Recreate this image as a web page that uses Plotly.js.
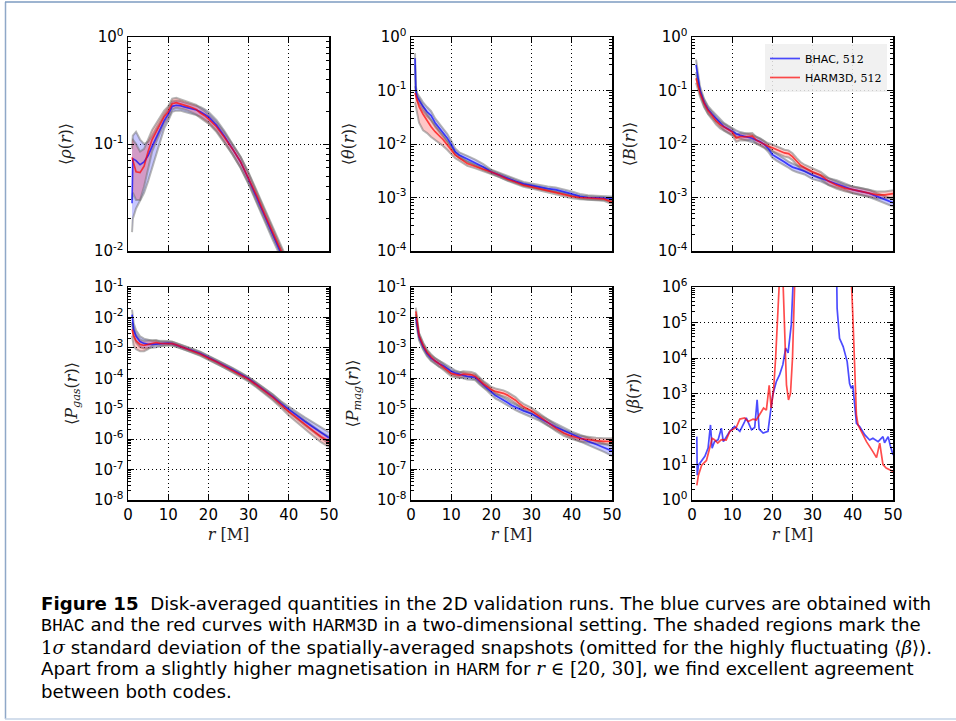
<!DOCTYPE html>
<html>
<head>
<meta charset="utf-8">
<script src="https://cdn.plot.ly/plotly-3.0.1.min.js"></script>
<style>html,body{margin:0;padding:0;background:#fff;}#chart{width:956px;height:721px;}</style>
</head>
<body>
<div id="chart"></div>
<script>
// ---------- DATA ----------
const xTicks = [0, 10, 20, 30, 40, 50];
const xTickText = ['0', '10', '20', '30', '40', '50'];

// Panel 1: <rho(r)>
const r1 = [1.0,1.2,2,3,4,5,6,7,8,9,10,11,12,13,14,15,16,17,18,19,20,22,24,26,28,30,32,34,36,38,40,42,44,46,48,50];
const rhoBHAC = [0.028,0.073,0.07,0.064,0.068,0.078,0.095,0.115,0.14,0.165,0.19,0.225,0.23,0.228,0.222,0.218,0.212,0.208,0.2,0.19,0.18,0.15,0.118,0.09,0.068,0.047,0.032,0.021,0.0145,0.0101,0.0068,0.0045,0.003,0.002,0.0013,0.0009];
const rhoBHAClo = [0.015,0.02,0.025,0.03,0.035,0.045,0.06,0.08,0.11,0.14,0.165,0.2,0.205,0.205,0.2,0.196,0.19,0.186,0.18,0.17,0.16,0.133,0.105,0.08,0.06,0.042,0.028,0.0185,0.0127,0.0088,0.006,0.0039,0.0026,0.0017,0.0011,0.0008];
const rhoBHAChi = [0.09,0.12,0.13,0.11,0.1,0.105,0.12,0.14,0.165,0.19,0.215,0.25,0.255,0.252,0.245,0.24,0.234,0.23,0.222,0.212,0.2,0.168,0.132,0.1,0.076,0.053,0.036,0.024,0.0165,0.0115,0.0077,0.0051,0.0034,0.0023,0.0015,0.001];
const rhoHARM = [0.075,0.07,0.055,0.054,0.062,0.085,0.11,0.13,0.155,0.18,0.2,0.238,0.243,0.238,0.232,0.225,0.218,0.21,0.195,0.185,0.172,0.145,0.115,0.09,0.068,0.048,0.033,0.022,0.0152,0.0106,0.0073,0.005,0.0033,0.0022,0.0015,0.001];
const rhoHARMlo = [0.03,0.035,0.03,0.03,0.04,0.06,0.085,0.105,0.13,0.155,0.175,0.21,0.218,0.215,0.21,0.204,0.196,0.188,0.175,0.166,0.155,0.13,0.103,0.08,0.06,0.043,0.029,0.0195,0.0135,0.0094,0.0065,0.0044,0.0029,0.0019,0.0013,0.0009];
const rhoHARMhi = [0.11,0.11,0.1,0.085,0.09,0.11,0.135,0.155,0.18,0.205,0.225,0.265,0.27,0.262,0.255,0.246,0.24,0.232,0.216,0.205,0.19,0.16,0.128,0.1,0.076,0.054,0.037,0.025,0.017,0.012,0.0082,0.0056,0.0037,0.0025,0.0017,0.0011];

// Panel 2: <theta(r)>
const r2 = [1.0,1.2,1.5,2,3,4,5,6,7,8,9,10,11,12,13,14,16,18,20,22,24,26,28,30,32,34,36,38,40,42,44,46,48,50];
const thBHAC = [0.4,0.1,0.076,0.065,0.05,0.04,0.034,0.025,0.02,0.0165,0.013,0.0098,0.0072,0.0062,0.0057,0.0053,0.0045,0.0037,0.003,0.0026,0.0023,0.002,0.0018,0.00167,0.00155,0.00147,0.0014,0.0013,0.00117,0.00105,0.001,0.00099,0.00097,0.00095];
const thBHAClo = [0.3,0.085,0.065,0.055,0.042,0.033,0.028,0.021,0.017,0.014,0.011,0.0085,0.0064,0.0055,0.0051,0.0047,0.004,0.0033,0.0028,0.0024,0.0021,0.00185,0.00166,0.00153,0.00142,0.00134,0.00127,0.00118,0.00106,0.00096,0.00092,0.00091,0.00089,0.00086];
const thBHAChi = [0.5,0.12,0.09,0.078,0.06,0.049,0.041,0.03,0.024,0.0195,0.0155,0.0115,0.0082,0.007,0.0064,0.006,0.0051,0.0042,0.0033,0.0029,0.0025,0.0022,0.00196,0.00182,0.00169,0.0016,0.00154,0.00143,0.00129,0.00116,0.0011,0.00108,0.00106,0.00104];
const thHARM = [0.09,0.08,0.065,0.05,0.036,0.027,0.021,0.017,0.0145,0.012,0.0097,0.0078,0.0062,0.0055,0.0048,0.0043,0.0038,0.0034,0.003,0.0026,0.0022,0.00195,0.0017,0.00158,0.00145,0.00135,0.00125,0.00115,0.00105,0.001,0.00098,0.00096,0.00094,0.00082];
const thHARMlo = [0.06,0.05,0.035,0.025,0.018,0.016,0.0135,0.012,0.0105,0.0092,0.0078,0.0065,0.0054,0.0049,0.0043,0.0039,0.0035,0.0031,0.0028,0.0024,0.00205,0.0018,0.00158,0.00147,0.00135,0.00125,0.00116,0.00107,0.00097,0.00093,0.00091,0.00089,0.00087,0.00075];
const thHARMhi = [0.12,0.1,0.085,0.07,0.05,0.037,0.028,0.022,0.018,0.0148,0.0117,0.0092,0.007,0.0061,0.0053,0.0047,0.0041,0.0037,0.0032,0.0028,0.0024,0.0021,0.00183,0.0017,0.00156,0.00145,0.00135,0.00124,0.00113,0.00107,0.00105,0.00103,0.00101,0.0009];

// Panel 3: <B(r)>
const r3 = [1.0,1.5,2,3,4,5,6,7,8,9,10,11,12,13,14,15,16,17,18,19,20,21,22,23,24,25,26,27,28,30,32,34,36,38,40,42,44,46,48,50];
const bBHAC = [0.3,0.16,0.1,0.06,0.044,0.036,0.03,0.025,0.021,0.019,0.017,0.0156,0.0145,0.0139,0.0133,0.0128,0.0118,0.011,0.0098,0.0082,0.0063,0.0057,0.0052,0.0046,0.0041,0.0037,0.0035,0.0033,0.0031,0.0026,0.0023,0.002,0.0018,0.0016,0.0014,0.0013,0.0012,0.00105,0.00092,0.0008];
const bBHAClo = [0.22,0.13,0.085,0.051,0.037,0.031,0.026,0.0215,0.018,0.0163,0.0146,0.0135,0.0126,0.012,0.0115,0.011,0.0102,0.0095,0.0085,0.0071,0.0055,0.0049,0.0045,0.004,0.0036,0.0032,0.003,0.0028,0.0027,0.0022,0.002,0.0017,0.00155,0.00138,0.0012,0.00111,0.00102,0.0009,0.00078,0.00068];
const bBHAChi = [0.38,0.19,0.118,0.07,0.051,0.042,0.035,0.029,0.0245,0.022,0.0198,0.018,0.0167,0.016,0.0153,0.0148,0.0137,0.0127,0.0113,0.0095,0.0073,0.0066,0.006,0.0053,0.0047,0.0043,0.004,0.0038,0.0036,0.003,0.0026,0.0023,0.0021,0.00185,0.0016,0.0015,0.0014,0.0012,0.00106,0.00093];
const bHARM = [0.17,0.12,0.09,0.058,0.042,0.034,0.027,0.023,0.0205,0.0185,0.0168,0.013,0.0138,0.0136,0.0138,0.014,0.0118,0.0108,0.0096,0.009,0.0085,0.0079,0.0072,0.0068,0.0066,0.0058,0.0048,0.004,0.0036,0.003,0.0026,0.002,0.0017,0.0015,0.0014,0.0013,0.0012,0.00112,0.00112,0.00118];
const bHARMlo = [0.14,0.1,0.076,0.049,0.036,0.029,0.023,0.0196,0.0175,0.0158,0.0143,0.011,0.0117,0.0116,0.0118,0.012,0.0101,0.0092,0.0082,0.0077,0.0073,0.0068,0.0062,0.0058,0.0056,0.005,0.0041,0.0034,0.0031,0.0026,0.0022,0.0017,0.00145,0.0013,0.0012,0.00111,0.00102,0.00096,0.00096,0.001];
const bHARMhi = [0.2,0.14,0.104,0.067,0.048,0.039,0.031,0.0265,0.0235,0.0213,0.0193,0.015,0.0159,0.0156,0.0159,0.0161,0.0136,0.0124,0.011,0.0103,0.0098,0.0091,0.0083,0.0078,0.0076,0.0067,0.0055,0.0046,0.0041,0.0035,0.003,0.0023,0.002,0.00172,0.0016,0.0015,0.0014,0.0013,0.0013,0.00136];

// Panel 4: <P_gas(r)>
const r4 = [1.0,1.4,2,3,4,5,6,7,8,9,10,11,12,14,16,18,20,22,24,26,28,30,32,34,36,38,40,42,44,46,48,50];
const pgBHAC = [0.0123,0.004,0.0024,0.0016,0.0014,0.0013,0.0013,0.00132,0.00135,0.0014,0.00144,0.00138,0.00126,0.001,0.00082,0.00065,0.00048,0.00036,0.00026,0.00019,0.000135,9.6e-5,6.2e-5,4e-5,2.5e-5,1.5e-5,9.3e-6,6e-6,3.8e-6,2.5e-6,1.7e-6,1.1e-6];
const pgBHAClo = [0.007,0.0025,0.0015,0.00105,0.00095,0.00095,0.001,0.00105,0.0011,0.00118,0.00125,0.0012,0.0011,0.00088,0.00072,0.00057,0.00042,0.00031,0.00023,0.000165,0.000118,8.3e-5,5.3e-5,3.4e-5,2.1e-5,1.25e-5,7.5e-6,4.6e-6,2.8e-6,1.8e-6,1.15e-6,7e-7];
const pgBHAChi = [0.018,0.0065,0.0038,0.0024,0.002,0.0018,0.0017,0.0017,0.0017,0.0017,0.00168,0.0016,0.00145,0.00115,0.00094,0.00075,0.00055,0.00042,0.0003,0.00022,0.000155,0.00011,7.2e-5,4.7e-5,3e-5,1.8e-5,1.15e-5,7.8e-6,5.2e-6,3.6e-6,2.5e-6,1.7e-6];
const pgHARM = [0.004,0.0025,0.0017,0.0013,0.0012,0.0013,0.00145,0.0015,0.0014,0.00138,0.00142,0.00138,0.00125,0.00098,0.0008,0.00063,0.00046,0.00035,0.00025,0.00018,0.00013,9.3e-5,6e-5,3.8e-5,2.4e-5,1.4e-5,8e-6,5e-6,3e-6,1.9e-6,1.2e-6,8.5e-7];
const pgHARMlo = [0.0025,0.0012,0.0009,0.00078,0.00078,0.0009,0.00115,0.00125,0.0012,0.0012,0.00125,0.0012,0.0011,0.00086,0.0007,0.00055,0.0004,0.0003,0.00022,0.000155,0.00011,7.8e-5,5e-5,3.1e-5,1.9e-5,1.1e-5,6e-6,3.6e-6,2.1e-6,1.3e-6,8e-7,5.5e-7];
const pgHARMhi = [0.0065,0.0042,0.0028,0.0019,0.0017,0.0017,0.0018,0.0018,0.0016,0.0016,0.0016,0.00158,0.00142,0.00112,0.00092,0.00072,0.00053,0.0004,0.00029,0.00021,0.00015,0.000108,7e-5,4.5e-5,2.9e-5,1.7e-5,1e-5,6.6e-6,4.2e-6,2.7e-6,1.7e-6,1.2e-6];

// Panel 5: <P_mag(r)>
const r5 = [1.2,1.6,2,3,4,5,6,7,8,9,10,11,12,13,14,15,16,17,18,19,20,21,22,23,24,25,26,27,28,30,32,34,36,38,40,42,44,46,48,50];
const pmBHAC = [0.0095,0.0045,0.0023,0.0011,0.00065,0.00046,0.00036,0.0003,0.00026,0.00021,0.00017,0.000148,0.000135,0.000125,0.000115,0.000112,0.000108,8e-5,6.2e-5,4.8e-5,3.5e-5,2.7e-5,2.3e-5,1.95e-5,1.6e-5,1.3e-5,1.12e-5,9.8e-6,8.5e-6,6.8e-6,5e-6,3.5e-6,2.5e-6,1.9e-6,1.4e-6,1.1e-6,8.5e-7,6.8e-7,5.3e-7,4.1e-7];
const pmBHAClo = [0.007,0.0035,0.0018,0.00088,0.00052,0.00037,0.00029,0.00024,0.00021,0.000168,0.000135,0.000118,0.000108,0.0001,9.2e-5,9e-5,8.6e-5,6.4e-5,5e-5,3.8e-5,2.8e-5,2.15e-5,1.85e-5,1.55e-5,1.28e-5,1.04e-5,9e-6,7.8e-6,6.8e-6,5.4e-6,4e-6,2.8e-6,2e-6,1.5e-6,1.1e-6,8.5e-7,6.5e-7,5e-7,3.8e-7,2.8e-7];
const pmBHAChi = [0.013,0.0058,0.0029,0.0014,0.00081,0.00057,0.00045,0.00037,0.00032,0.00026,0.00021,0.000182,0.000165,0.000153,0.00014,0.000137,0.000132,9.8e-5,7.6e-5,5.9e-5,4.3e-5,3.3e-5,2.8e-5,2.4e-5,1.95e-5,1.6e-5,1.37e-5,1.2e-5,1.04e-5,8.3e-6,6.1e-6,4.3e-6,3.1e-6,2.35e-6,1.75e-6,1.4e-6,1.1e-6,8.8e-7,7.2e-7,5.8e-7];
const pmHARM = [0.0158,0.006,0.0025,0.0012,0.0007,0.0005,0.00037,0.0003,0.00024,0.00019,0.000145,0.000135,0.000125,0.000137,0.000135,0.00013,0.000115,8.5e-5,6.5e-5,5.3e-5,4.2e-5,3.7e-5,3.5e-5,3.2e-5,2.8e-5,2.3e-5,1.9e-5,1.45e-5,1.15e-5,8.5e-6,5.5e-6,3.5e-6,2.3e-6,1.6e-6,1.25e-6,1.05e-6,9.5e-7,9e-7,8.5e-7,8.5e-7];
const pmHARMlo = [0.012,0.0047,0.002,0.00097,0.00056,0.0004,0.0003,0.00024,0.00019,0.000152,0.000116,0.000108,0.0001,0.00011,0.000108,0.000104,9.2e-5,6.8e-5,5.2e-5,4.25e-5,3.4e-5,3e-5,2.8e-5,2.55e-5,2.25e-5,1.85e-5,1.5e-5,1.15e-5,9.2e-6,6.8e-6,4.4e-6,2.8e-6,1.85e-6,1.28e-6,1e-6,8.4e-7,7.6e-7,7.2e-7,6.8e-7,6.8e-7];
const pmHARMhi = [0.021,0.0077,0.0031,0.0015,0.00088,0.00062,0.00046,0.00038,0.0003,0.00024,0.00018,0.000168,0.000156,0.000171,0.000169,0.000162,0.000144,0.000106,8.1e-5,6.6e-5,5.2e-5,4.6e-5,4.4e-5,4e-5,3.5e-5,2.9e-5,2.4e-5,1.8e-5,1.44e-5,1.06e-5,6.9e-6,4.4e-6,2.9e-6,2e-6,1.56e-6,1.3e-6,1.19e-6,1.12e-6,1.06e-6,1.06e-6];

// Panel 6: <beta(r)>  (no shaded band)
const rBetaBHAC = [1.2,1.3,1.6,2.3,3.2,4.0,4.6,5.0,5.6,6.5,7.3,7.8,8.5,9.4,10.6,11.9,13.1,13.5,14.8,15.6,16.2,16.7,17.7,18.9,19.7,20.1,21.0,21.8,22.6,23.3,23.9,24.7,25.1,25.5,30,35.9,36.1,36.7,37.6,38.6,39.2,39.6,40.0,40.5,40.9,41.7,43.0,44.2,45.0,46.3,47.5,47.9,48.8,49.3,50];
const betaBHAC = [61,5,9.6,12,17,29,130,29,44,50,105,44,58,86,118,86,162,205,95,110,660,100,77,86,425,920,2200,3400,6500,19000,14000,87000,1e6,1e7,1e9,1e7,2.5e5,36000,21000,7900,1900,1400,1700,310,145,118,68,49,55,44,61,41,61,35,18.6];
const rBetaHARM = [1.2,1.6,2.4,3.6,4.4,5.0,5.6,6.4,7.3,8.5,9.4,10.2,11.0,11.9,13.1,14.0,15.2,16.0,16.8,17.8,18.5,19.2,19.7,20.3,20.8,21.2,21.6,22.1,22.6,23.0,23.5,24.0,24.5,25.0,25.3,25.6,32,39.6,40.0,40.5,40.9,41.3,42.1,43.4,45.0,45.9,46.7,47.5,48.3,50];
const betaHARM = [2.6,5,9.6,13,29,55,50,40,50,49,86,100,110,190,205,162,190,180,250,390,340,1700,390,1300,10000,2.5e5,2e6,1e7,2e6,1e5,1750,660,1000,10000,2.5e5,2e6,1e9,2e6,1.66e5,3400,250,130,86,44,23,15.6,40,10,7.9,6.4];

// Y tick values / labels per panel
const yTicks1 = [0.01, 0.1, 1];
const yText1 = ['10<sup>-2</sup>','10<sup>-1</sup>','10<sup>0</sup>'];
const yTicks23 = [1e-4, 1e-3, 1e-2, 1e-1, 1];
const yText23 = ['10<sup>-4</sup>','10<sup>-3</sup>','10<sup>-2</sup>','10<sup>-1</sup>','10<sup>0</sup>'];
const yTicks45 = [1e-8,1e-7,1e-6,1e-5,1e-4,1e-3,1e-2,1e-1];
const yText45 = ['10<sup>-8</sup>','10<sup>-7</sup>','10<sup>-6</sup>','10<sup>-5</sup>','10<sup>-4</sup>','10<sup>-3</sup>','10<sup>-2</sup>','10<sup>-1</sup>'];
const yTicks6 = [1,10,100,1e3,1e4,1e5,1e6];
const yText6 = ['10<sup>0</sup>','10<sup>1</sup>','10<sup>2</sup>','10<sup>3</sup>','10<sup>4</sup>','10<sup>5</sup>','10<sup>6</sup>'];

const seriesNames = ['BHAC, <span style="font-family:\'DejaVu Serif\'">512</span>', 'HARM3D, <span style="font-family:\'DejaVu Serif\'">512</span>'];

const MONO = "font-family:'Liberation Mono'";
const SERIF = "font-family:'DejaVu Serif'";
const captionLines = [
  '<b>Figure 15</b>\u00a0\u00a0Disk-averaged quantities in the 2D validation runs. The blue curves are obtained with',
  '<span style="' + MONO + '">BHAC</span> and the red curves with <span style="' + MONO + '">HARM3D</span> in a two-dimensional setting. The shaded regions mark the',
  '<span style="' + SERIF + '">1<i>σ</i></span> standard deviation of the spatially-averaged snapshots (omitted for the highly fluctuating <span style="' + SERIF + '">⟨<i>β</i>⟩</span>).',
  'Apart from a slightly higher magnetisation in <span style="' + MONO + '">HARM</span> for <span style="' + SERIF + '"><i>r</i> ∈ [20, 30]</span>, we find excellent agreement',
  'between both codes.'
];

// ---------- STYLE ----------
const W = 956, H = 721;
const BLUE = 'rgba(0,0,255,0.7)', RED = 'rgba(255,0,0,0.7)';
const BLUEFILL = 'rgba(0,0,255,0.22)', REDFILL = 'rgba(255,0,0,0.22)';
const EDGE = 'rgba(110,110,110,0.5)';

const traces = [];
function band(x, lo, hi, fill, ax) {
  traces.push({x:x, y:lo, xaxis:'x'+ax, yaxis:'y'+ax, mode:'lines', line:{color:EDGE, width:2}, showlegend:false, hoverinfo:'skip'});
  traces.push({x:x, y:hi, xaxis:'x'+ax, yaxis:'y'+ax, mode:'lines', line:{color:EDGE, width:2}, fill:'tonexty', fillcolor:fill, showlegend:false, hoverinfo:'skip'});
}
function line(x, y, color, ax, name, legend) {
  traces.push({x:x, y:y, xaxis:'x'+ax, yaxis:'y'+ax, mode:'lines', line:{color:color, width:1.7}, name:name, showlegend:legend});
}
const ax = ['', '2', '3', '4', '5', '6'];
band(r1, rhoBHAClo, rhoBHAChi, BLUEFILL, ax[0]); band(r1, rhoHARMlo, rhoHARMhi, REDFILL, ax[0]);
line(r1, rhoBHAC, BLUE, ax[0], seriesNames[0], false); line(r1, rhoHARM, RED, ax[0], seriesNames[1], false);
band(r2, thBHAClo, thBHAChi, BLUEFILL, ax[1]); band(r2, thHARMlo, thHARMhi, REDFILL, ax[1]);
line(r2, thBHAC, BLUE, ax[1], seriesNames[0], false); line(r2, thHARM, RED, ax[1], seriesNames[1], false);
band(r3, bBHAClo, bBHAChi, BLUEFILL, ax[2]); band(r3, bHARMlo, bHARMhi, REDFILL, ax[2]);
line(r3, bBHAC, BLUE, ax[2], seriesNames[0], true); line(r3, bHARM, RED, ax[2], seriesNames[1], true);
band(r4, pgBHAClo, pgBHAChi, BLUEFILL, ax[3]); band(r4, pgHARMlo, pgHARMhi, REDFILL, ax[3]);
line(r4, pgBHAC, BLUE, ax[3], seriesNames[0], false); line(r4, pgHARM, RED, ax[3], seriesNames[1], false);
band(r5, pmBHAClo, pmBHAChi, BLUEFILL, ax[4]); band(r5, pmHARMlo, pmHARMhi, REDFILL, ax[4]);
line(r5, pmBHAC, BLUE, ax[4], seriesNames[0], false); line(r5, pmHARM, RED, ax[4], seriesNames[1], false);
line(rBetaBHAC, betaBHAC, BLUE, ax[5], seriesNames[0], false); line(rBetaHARM, betaHARM, RED, ax[5], seriesNames[1], false);

const colDom = [[128/W, 329/W], [411/W, 612/W], [692/W, 893/W]];
const rowDom = [[1-251/H, 1-37/H], [1-500/H, 1-287/H]];
const TICKFONT = {family:'DejaVu Sans', size:15, color:'#000'};
const TITLEFONT = {family:'DejaVu Serif', size:16, color:'#222'};

function xAxis(col, row, anchor) {
  const a = {domain:colDom[col], anchor:anchor, range:[0,50], tickmode:'array', tickvals:xTicks, ticktext:xTickText,
    showticklabels: row === 1, ticks:'inside', ticklen:6, tickwidth:1, tickcolor:'#000', mirror:'allticks',
    showline:true, linecolor:'#000', linewidth:1.5, showgrid:true, gridcolor:'#000', griddash:'1px,3px', gridwidth:1,
    zeroline:false, tickfont:TICKFONT};
  if (row === 1) a.title = {text:'<i>r</i> [M]', font:TITLEFONT, standoff:6};
  return a;
}
function yAxis(col, row, anchor, rng, tv, tt, title, standoff) {
  return {domain:rowDom[row], anchor:anchor, type:'log', range:rng, tickmode:'array', tickvals:tv, ticktext:tt,
    ticks:'inside', ticklen:6, tickwidth:1, tickcolor:'#000', mirror:'allticks',
    minor:{ticks:'inside', ticklen:3, tickwidth:1, tickcolor:'#000', dtick:'D1', showgrid:false},
    showline:true, linecolor:'#000', linewidth:1.5, showgrid:true, gridcolor:'#000', griddash:'1px,3px', gridwidth:1,
    zeroline:false, tickfont:TICKFONT, title:{text:title, font:TITLEFONT, standoff:standoff}};
}

const layout = {
  width:W, height:H, margin:{l:0, r:0, t:0, b:0, pad:0},
  paper_bgcolor:'#fff', plot_bgcolor:'#fff', showlegend:true,
  font:{family:'DejaVu Sans', color:'#000'},
  xaxis:  xAxis(0,0,'y'),  yaxis:  yAxis(0,0,'x',  [-2,0], yTicks1, yText1, '⟨<i>ρ</i>(<i>r</i>)⟩', 18),
  xaxis2: xAxis(1,0,'y2'), yaxis2: yAxis(1,0,'x2', [-4,0], yTicks23, yText23, '⟨<i>θ</i>(<i>r</i>)⟩', 18),
  xaxis3: xAxis(2,0,'y3'), yaxis3: yAxis(2,0,'x3', [-4,0], yTicks23, yText23, '⟨<i>B</i>(<i>r</i>)⟩', 18),
  xaxis4: xAxis(0,1,'y4'), yaxis4: yAxis(0,1,'x4', [-8,-1], yTicks45, yText45, '⟨<i>P</i><sub><i>gas</i></sub>(<i>r</i>)⟩', 12),
  xaxis5: xAxis(1,1,'y5'), yaxis5: yAxis(1,1,'x5', [-8,-1], yTicks45, yText45, '⟨<i>P</i><sub><i>mag</i></sub>(<i>r</i>)⟩', 14),
  xaxis6: xAxis(2,1,'y6'), yaxis6: yAxis(2,1,'x6', [0,6], yTicks6, yText6, '⟨<i>β</i>(<i>r</i>)⟩', 18),
  legend:{x:887/W, y:1-44/H, xanchor:'right', yanchor:'top', bgcolor:'rgba(238,238,238,0.85)', borderwidth:0,
    traceorder:'normal', font:{family:'DejaVu Sans', size:11, color:'#000'}, tracegroupgap:0, itemwidth:30},
  annotations: captionLines.map((t, i) => ({text:t, xref:'paper', yref:'paper', x:39/W, y:1-(603+22*i)/H,
    xanchor:'left', yanchor:'middle', showarrow:false, align:'left', font:{family:'DejaVu Sans', size:18.2, color:'#000'}})),
  shapes:[
    {type:'line', xref:'paper', yref:'paper', x0:5.5/W, x1:5.5/W, y0:1-2/H, y1:1-719/H, line:{color:'#8fa8c8', width:1.5}},
    {type:'line', xref:'paper', yref:'paper', x0:5/W, x1:1, y0:1-2/H, y1:1-2/H, line:{color:'#7d9bc1', width:1.5}},
    {type:'line', xref:'paper', yref:'paper', x0:5/W, x1:1, y0:1-719/H, y1:1-719/H, line:{color:'#c5d3e6', width:1.5}}
  ]
};

Plotly.newPlot('chart', traces, layout, {staticPlot:true, displayModeBar:false});
</script>
</body>
</html>
